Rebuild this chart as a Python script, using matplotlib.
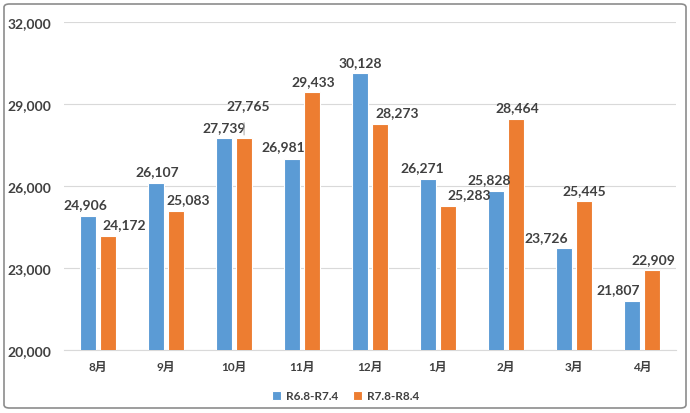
import matplotlib
matplotlib.use("Agg")
import matplotlib.pyplot as plt
import numpy as np
from matplotlib.patches import FancyBboxPatch
from matplotlib.ticker import FuncFormatter

plt.rcParams['font.family'] = ['Lato', 'Noto Sans CJK JP', 'DejaVu Sans']

# data
months = ['8月', '9月', '10月', '11月', '12月', '1月', '2月', '3月', '4月']
series_names = ['R6.8-R7.4', 'R7.8-R8.4']
r6 = [24906, 26107, 27739, 26981, 30128, 26271, 25828, 23726, 21807]
r7 = [24172, 25083, 27765, 29433, 28273, 25283, 28464, 25445, 22909]

# label nudges in points (x, y) so neighbouring labels don't collide
r6_nudge = [(-2, 4), (1, 4), (0, 4), (-6, 5), (0, 4), (-4, 4), (-5, 4), (-13, 4), (-10, 4)]
r7_nudge = [(12, 4), (9, 4), (3, 19), (1, 4), (12, 4), (15, 4), (1, 4), (0, 4), (1, 4)]

blue = '#5B9BD5'
orange = '#ED7D31'
text_col = '#404040'

fig = plt.figure(figsize=(6.9, 4.14), dpi=100)
ax = fig.add_axes([64 / 690, 1 - 351 / 414, 612 / 690, 328 / 414])

x = np.arange(len(months))
w = 0.23
off = 0.148
b1 = ax.bar(x - off, r6, w, color=blue, edgecolor='white', linewidth=0.8, label=series_names[0], zorder=3)
b2 = ax.bar(x + off, r7, w, color=orange, edgecolor='white', linewidth=0.8, label=series_names[1], zorder=3)

for bars, vals, nudges in [(b1, r6, r6_nudge), (b2, r7, r7_nudge)]:
    for rect, v, (dx, dy) in zip(bars, vals, nudges):
        cx = rect.get_x() + rect.get_width() / 2
        ax.annotate(f'{v:,}', xy=(cx, v), xytext=(dx, dy), textcoords='offset points',
                    ha='center', va='bottom', fontsize=10, fontweight='bold',
                    color=text_col)

# leader line for the 10月 orange label
ax.annotate('', xy=(x[2] + off, r7[2]), xytext=(x[2] + off, r7[2] + 650),
            arrowprops=dict(arrowstyle='-', color='#A6A6A6', lw=0.7))

ax.set_xlim(-0.5, len(months) - 0.5)
ax.set_ylim(20000, 32000)
ax.set_yticks(np.arange(20000, 32001, 3000))
ax.yaxis.set_major_formatter(FuncFormatter(lambda v, p: f'{int(v):,}'))
ax.set_xticks(x)
ax.set_xticklabels(months)
ax.grid(axis='y', color='#D9D9D9', linewidth=0.8, zorder=0)
for s in ['top', 'right', 'left']:
    ax.spines[s].set_visible(False)
ax.spines['bottom'].set_color('#D9D9D9')
ax.tick_params(axis='both', length=0, colors=text_col)
ax.tick_params(axis='y', pad=9)
ax.tick_params(axis='x', pad=8)
for t in ax.get_yticklabels():
    t.set_fontweight('bold')
    t.set_fontsize(10)
for t in ax.get_xticklabels():
    t.set_fontweight('bold')
    t.set_fontsize(8.5)

leg = ax.legend(loc='upper center', bbox_to_anchor=(0.46, -0.09), ncol=2, frameon=False,
                handlelength=0.8, handleheight=0.8, columnspacing=1.2, handletextpad=0.4,
                prop={'size': 8.5, 'weight': 'bold'})
for t in leg.get_texts():
    t.set_color(text_col)

border = FancyBboxPatch((4 / 690, 5 / 414), 682 / 690, 404 / 414,
                        boxstyle='round,pad=0,rounding_size=0.008', transform=fig.transFigure,
                        facecolor='none', edgecolor='#8C8C8C', linewidth=1.2)
fig.patches.append(border)

fig.savefig('out.png', dpi=100)
